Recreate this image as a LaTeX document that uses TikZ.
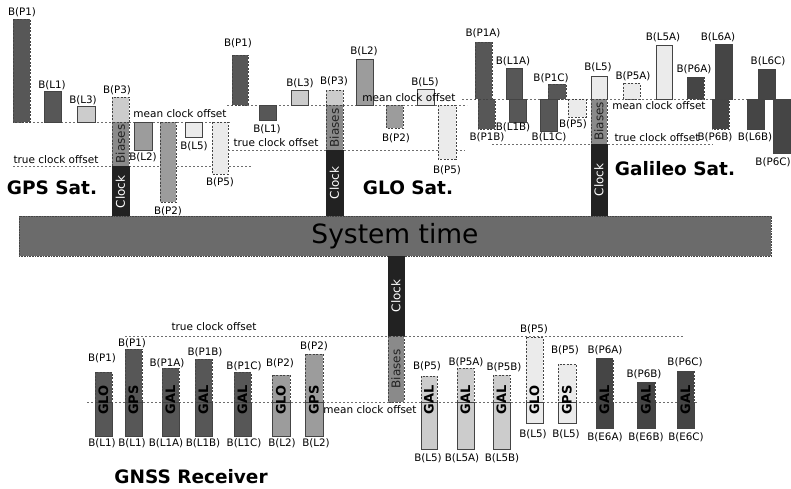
\documentclass[tikz,border=0pt]{standalone}
\usepackage{fontspec}
\setmainfont{DejaVu Sans}
\definecolor{cA}{HTML}{575757}
\definecolor{cB}{HTML}{9C9C9C}
\definecolor{cC}{HTML}{CCCCCC}
\definecolor{cD}{HTML}{EBEBEB}
\definecolor{cE}{HTML}{454545}
\definecolor{cBias}{HTML}{8A8A8A}
\definecolor{cClock}{HTML}{222222}
\definecolor{cSys}{HTML}{6B6B6B}
\definecolor{cEdge}{HTML}{444444}
\definecolor{cLine}{HTML}{6E6E6E}
\newcommand{\rxbar}[7]{%
  \draw[db, fill=#5] (#1,#3) rectangle (#2,402);
  \draw[sb, fill=#5] (#1,402) rectangle (#2,#4);
  \node[rxt] (#7) at ({(#1+#2)/2},400) {#6};}
\begin{document}
\begin{tikzpicture}[x=1pt,y=-1pt,
  lbl/.style={font=\fontsize{10.3}{12}\selectfont, inner sep=0pt},
  offt/.style={font=\fontsize{10.5}{12}\selectfont, inner sep=0pt},
  sb/.style={draw=cEdge, line width=0.6pt},
  db/.style={draw=cEdge, line width=0.6pt, dash pattern=on 2pt off 1.5pt},
  offl/.style={draw=cLine, line width=0.7pt, dash pattern=on 2pt off 2pt},
  clockbox/.style={draw=cClock, fill=cClock, line width=0.6pt},
  biasbox/.style={db, fill=cBias},
  ttl/.style={font=\fontsize{18.5}{20}\selectfont\bfseries, inner sep=0pt},
  clk/.style={rotate=90, font=\fontsize{12}{12}\selectfont, inner sep=0pt, text=white},
  bia/.style={rotate=90, font=\fontsize{12}{12}\selectfont, inner sep=0pt, text=cClock},
  rxt/.style={rotate=90, font=\fontsize{13}{14}\selectfont\bfseries, inner sep=0pt, text=black}
]
\useasboundingbox (0,0) rectangle (791,488);

% ---------------- GPS satellite ----------------
\draw[offl] (13,122) -- (230,122);
\draw[offl] (13,166) -- (252,166);
\draw[db, fill=cA] (13,19) rectangle (30,122);
\draw[sb, fill=cA] (44,91) rectangle (61,122);
\draw[sb, fill=cC] (77,106) rectangle (95,122);
\draw[db, fill=cC] (112,97) rectangle (129,122);
\draw[biasbox] (112,122) rectangle (129,166);
\draw[clockbox] (112,166) rectangle (129,216);
\draw[sb, fill=cB] (134,122) rectangle (152,150);
\draw[db, fill=cB] (160,122) rectangle (176,202);
\draw[sb, fill=cD] (185,122) rectangle (202,137);
\draw[db, fill=cD] (212,122) rectangle (228,174);
\node[lbl] (gpsp1) at (22,12) {B(P1)};
\node[lbl] (gpsl1) at (52,85) {B(L1)};
\node[lbl] (gpsl3) at (83,100) {B(L3)};
\node[lbl] (gpsp3) at (117,90) {B(P3)};
\node[lbl] (gpsl2) at (143,157) {B(L2)};
\node[lbl] (gpsl5) at (194,146) {B(L5)};
\node[lbl] (gpsp5) at (220,182) {B(P5)};
\node[lbl] (gpsp2) at (168,211) {B(P2)};
\node[offt] (gpsmean) at (180,114) {mean clock offset};
\node[offt] (gpstrue) at (56,160) {true clock offset};
\node[bia] (gpsbias) at (120.5,144) {Biases};
\node[clk] (gpsclock) at (120.5,192) {Clock};
\node[ttl] (gpsttl) at (52,188) {GPS Sat.};

% ---------------- GLONASS satellite ----------------
\draw[offl] (227,105) -- (467,105);
\draw[offl] (228,150) -- (465,150);
\draw[db, fill=cA] (232,55) rectangle (248,105);
\draw[sb, fill=cA] (259,105) rectangle (276,120);
\draw[sb, fill=cC] (291,90) rectangle (308,105);
\draw[db, fill=cC] (326,90) rectangle (343,105);
\draw[biasbox] (326,105) rectangle (343,150);
\draw[clockbox] (326,150) rectangle (343,216);
\draw[sb, fill=cB] (356,59) rectangle (373,105);
\draw[db, fill=cB] (386,105) rectangle (403,128);
\draw[sb, fill=cD] (417,89) rectangle (434,105);
\draw[db, fill=cD] (438,105) rectangle (456,159);
\node[lbl] (glop1) at (238,43) {B(P1)};
\node[lbl] (glol1) at (267,129) {B(L1)};
\node[lbl] (glol3) at (300,83) {B(L3)};
\node[lbl] (glop3) at (334,81) {B(P3)};
\node[lbl] (glol2) at (364,51) {B(L2)};
\node[lbl] (glop2) at (396,138) {B(P2)};
\node[lbl] (glol5) at (425,82) {B(L5)};
\node[lbl] (glop5) at (447,170) {B(P5)};
\node[offt] (glomean) at (409,98) {mean clock offset};
\node[offt] (glotrue) at (276,143) {true clock offset};
\node[bia] (globias) at (334.5,128) {Biases};
\node[clk] (gloclock) at (334.5,183) {Clock};
\node[ttl] (glottl) at (408,188) {GLO Sat.};

% ---------------- Galileo satellite ----------------
\draw[offl] (462,99) -- (790,99);
\draw[offl] (492,144) -- (713,144);
\draw[db, fill=cA] (475,42) rectangle (492,99);
\draw[db, fill=cA] (478,99) rectangle (495,129);
\draw[sb, fill=cA] (506,68) rectangle (522,99);
\draw[sb, fill=cA] (509,99) rectangle (526,122);
\draw[sb, fill=cA] (540,99) rectangle (557,131);
\draw[db, fill=cA] (548,84) rectangle (566,99);
\draw[db, fill=cD] (568,99) rectangle (586,117);
\draw[sb, fill=cD] (591,76) rectangle (607,99);
\draw[biasbox] (591,99) rectangle (607,144);
\draw[clockbox] (591,144) rectangle (607,216);
\draw[db, fill=cD] (623,83) rectangle (640,99);
\draw[sb, fill=cD] (656,45) rectangle (672,99);
\draw[db, fill=cE] (687,77) rectangle (704,99);
\draw[sb, fill=cE] (715,44) rectangle (732,99);
\draw[db, fill=cE] (712,99) rectangle (729,129);
\draw[sb, fill=cE] (758,69) rectangle (775,99);
\draw[sb, fill=cE] (747,99) rectangle (764,129);
\draw[sb, fill=cE] (773,99) rectangle (790,153);
\node[lbl] (galp1a) at (483,33) {B(P1A)};
\node[lbl] (gall1a) at (513,61) {B(L1A)};
\node[lbl] (galp1c) at (551,78) {B(P1C)};
\node[lbl] (gall5) at (598,67) {B(L5)};
\node[lbl] (galp5a) at (633,76) {B(P5A)};
\node[lbl] (gall5a) at (663,37) {B(L5A)};
\node[lbl] (galp6a) at (694,69) {B(P6A)};
\node[lbl] (gall6a) at (718,37) {B(L6A)};
\node[lbl] (gall6c) at (768,61) {B(L6C)};
\node[lbl] (galp1b) at (487,137) {B(P1B)};
\node[lbl] (gall1b) at (513,127) {B(L1B)};
\node[lbl] (gall1c) at (549,137) {B(L1C)};
\node[lbl] (galp5) at (573,124) {B(P5)};
\node[lbl] (galp6b) at (715,137) {B(P6B)};
\node[lbl] (gall6b) at (755,137) {B(L6B)};
\node[lbl] (galp6c) at (773,162) {B(P6C)};
\node[offt] (galmean) at (659,106) {mean clock offset};
\node[offt] (galtrue) at (657,138) {true clock offset};
\node[bia] (galbias) at (599,121.5) {Biases};
\node[clk] (galclock) at (599,180) {Clock};
\node[ttl] (galttl) at (675,169) {Galileo Sat.};

% ---------------- System time ----------------
\node[draw=cEdge, line width=0.6pt, dash pattern=on 1pt off 0.6pt, fill=cSys,
      minimum width=752pt, minimum height=40pt, inner sep=0pt,
      font=\fontsize{26.5}{28}\selectfont] (sys) at (395,236) {System time};

% ---------------- Receiver ----------------
\draw[offl] (125,336) -- (683,336);
\draw[offl] (87,402) -- (698,402);
\draw[clockbox] (388,256) rectangle (404,336);
\draw[biasbox] (388,336) rectangle (404,402);
\node[clk] (rxclock) at (396,296) {Clock};
\node[bia] (rxbias) at (396,369) {Biases};
\node[offt] (rxtrue) at (214,327) {true clock offset};
\node[offt] (rxmean) at (370,410) {mean clock offset};

\rxbar{95}{112}{372}{436}{cA}{GLO}{rb1}
\rxbar{125}{142}{349}{436}{cA}{GPS}{rb2}
\rxbar{162}{179}{368}{436}{cA}{GAL}{rb3}
\rxbar{195}{212}{359}{436}{cA}{GAL}{rb4}
\rxbar{234}{251}{372}{436}{cA}{GAL}{rb5}
\rxbar{272}{290}{375}{436}{cB}{GLO}{rb6}
\rxbar{305}{323}{354}{436}{cB}{GPS}{rb7}
\rxbar{421}{437}{376}{449}{cC}{GAL}{rb8}
\rxbar{457}{474}{368}{449}{cC}{GAL}{rb9}
\rxbar{493}{510}{375}{449}{cC}{GAL}{rb10}
\rxbar{526}{543}{337}{423}{cD}{GLO}{rb11}
\rxbar{558}{576}{364}{423}{cD}{GPS}{rb12}
\rxbar{596}{613}{358}{428}{cE}{GAL}{rb13}
\rxbar{637}{655}{382}{428}{cE}{GAL}{rb14}
\rxbar{677}{694}{371}{428}{cE}{GAL}{rb15}

\node[lbl] (rt1) at (102,358) {B(P1)};
\node[lbl] (rt2) at (132,343) {B(P1)};
\node[lbl] (rt3) at (167,363) {B(P1A)};
\node[lbl] (rt4) at (205,352) {B(P1B)};
\node[lbl] (rt5) at (244,366) {B(P1C)};
\node[lbl] (rt6) at (280,363) {B(P2)};
\node[lbl] (rt7) at (314,346) {B(P2)};
\node[lbl] (rt8) at (427,366) {B(P5)};
\node[lbl] (rt9) at (466,362) {B(P5A)};
\node[lbl] (rt10) at (504,367) {B(P5B)};
\node[lbl] (rt11) at (534,329) {B(P5)};
\node[lbl] (rt12) at (565,350) {B(P5)};
\node[lbl] (rt13) at (605,350) {B(P6A)};
\node[lbl] (rt14) at (644,374) {B(P6B)};
\node[lbl] (rt15) at (685,362) {B(P6C)};

\node[lbl] (rl1) at (102,443) {B(L1)};
\node[lbl] (rl2) at (132,443) {B(L1)};
\node[lbl] (rl3) at (166,443) {B(L1A)};
\node[lbl] (rl4) at (203,443) {B(L1B)};
\node[lbl] (rl5) at (244,443) {B(L1C)};
\node[lbl] (rl6) at (282,443) {B(L2)};
\node[lbl] (rl7) at (316,443) {B(L2)};
\node[lbl] (rl8) at (428,458) {B(L5)};
\node[lbl] (rl9) at (462,458) {B(L5A)};
\node[lbl] (rl10) at (502,458) {B(L5B)};
\node[lbl] (rl11) at (533,434) {B(L5)};
\node[lbl] (rl12) at (566,434) {B(L5)};
\node[lbl] (rl13) at (605,437) {B(E6A)};
\node[lbl] (rl14) at (646,437) {B(E6B)};
\node[lbl] (rl15) at (686,437) {B(E6C)};

\node[ttl] (rxttl) at (191,477) {GNSS Receiver};
\end{tikzpicture}
\end{document}
